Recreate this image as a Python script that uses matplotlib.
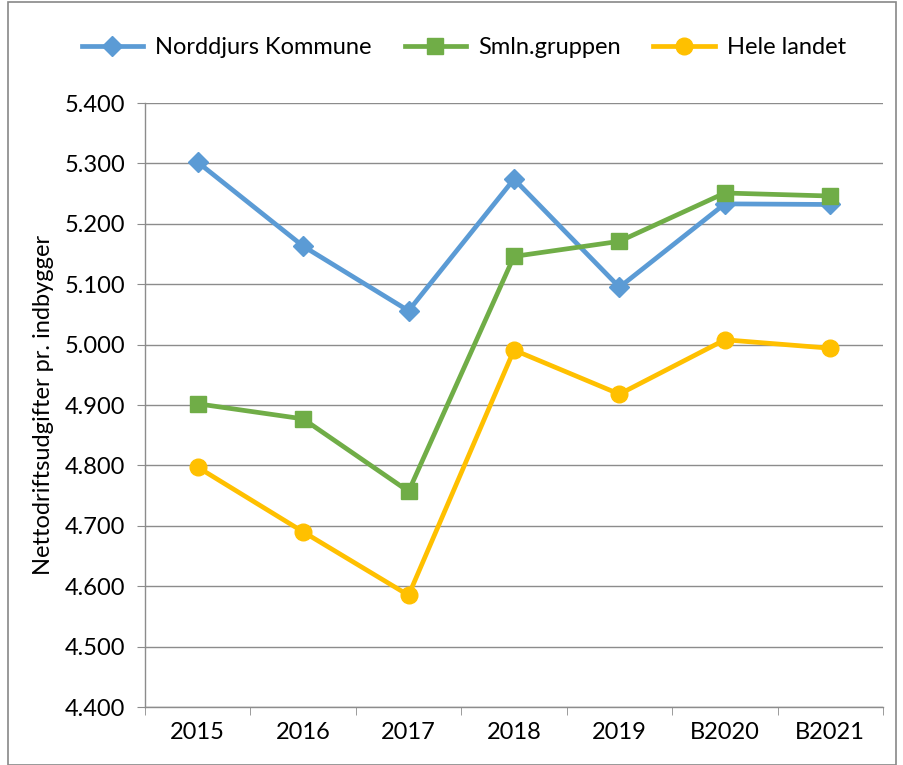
import matplotlib.pyplot as plt
from matplotlib.patches import Rectangle
from matplotlib.ticker import FuncFormatter, MultipleLocator, FixedLocator, NullFormatter
import numpy as np

plt.rcParams["font.family"] = ["Lato", "DejaVu Sans"]

years = ["2015", "2016", "2017", "2018", "2019", "B2020", "B2021"]
norddjurs = [5302, 5163, 5056, 5274, 5095, 5233, 5232]
smln = [4902, 4877, 4757, 5146, 5171, 5251, 5246]
hele = [4797, 4690, 4585, 4991, 4918, 5008, 4994]

fig = plt.figure(figsize=(9.04, 7.65), dpi=100)
ax = fig.add_axes([145 / 904, 1 - 707 / 765, (883 - 145) / 904, (707 - 103) / 765])

fig.patches.append(Rectangle((8 / 904, 0), (896 - 8) / 904, 1 - 2 / 765,
                             transform=fig.transFigure, fill=False,
                             edgecolor="#888888", linewidth=1.2))

x = np.arange(len(years))
ax.plot(x, norddjurs, color="#5B9BD5", lw=3.4, marker="D", ms=10,
        label="Norddjurs Kommune", zorder=3)
ax.plot(x, smln, color="#70AD47", lw=3.4, marker="s", ms=11,
        label="Smln.gruppen", zorder=3)
ax.plot(x, hele, color="#FFC000", lw=3.4, marker="o", ms=12,
        label="Hele landet", zorder=3)

ax.set_xlim(-0.5, len(years) - 0.5)
ax.set_ylim(4400, 5400)
ax.yaxis.set_major_locator(MultipleLocator(100))
ax.yaxis.set_major_formatter(FuncFormatter(lambda v, p: f"{v / 1000:.3f}"))
ax.grid(axis="y", color="#8c8c8c", lw=1)
ax.set_axisbelow(True)

ax.set_xticks(x)
ax.set_xticklabels(years)
ax.tick_params(axis="x", length=0, labelsize=17, pad=11)
ax.xaxis.set_minor_locator(FixedLocator(np.arange(-0.5, len(years), 1)))
ax.xaxis.set_minor_formatter(NullFormatter())
ax.tick_params(axis="x", which="minor", length=6, color="#8c8c8c", direction="out")
ax.tick_params(axis="y", length=6, color="#8c8c8c", labelsize=17, pad=8)

for s in ["top", "right"]:
    ax.spines[s].set_visible(False)
for s in ["left", "bottom"]:
    ax.spines[s].set_color("#8c8c8c")
    ax.spines[s].set_linewidth(1)

ax.set_ylabel("Nettodriftsudgifter pr. indbygger", fontsize=17, labelpad=8)

fig.legend(loc="center", bbox_to_anchor=(0.513, 1 - 48 / 765), ncol=3, frameon=False,
           fontsize=17, handlelength=2.6, columnspacing=1.4, handletextpad=0.5)

fig.savefig("out.png", dpi=100)
